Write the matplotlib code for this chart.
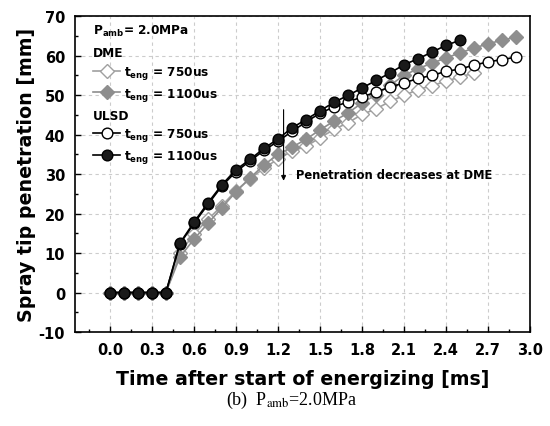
import numpy as np
import matplotlib
matplotlib.use("Agg")
import matplotlib.pyplot as plt
from matplotlib.ticker import MultipleLocator
from matplotlib.lines import Line2D

plt.rcParams['font.family'] = 'DejaVu Sans'
plt.rcParams['axes.unicode_minus'] = False
plt.rcParams['mathtext.fontset'] = 'custom'
plt.rcParams['mathtext.rm'] = 'DejaVu Sans:bold'
plt.rcParams['mathtext.bf'] = 'DejaVu Sans:bold'

# time [ms]
t_dme750 = np.round(np.arange(0, 2.65, 0.1), 1)
t_dme1100 = np.round(np.arange(0, 2.95, 0.1), 1)
t_ulsd750 = np.round(np.arange(0, 2.95, 0.1), 1)
t_ulsd1100 = np.round(np.arange(0, 2.55, 0.1), 1)

# spray tip penetration [mm]
dme750 = [0, 0, 0, 0, 0, 10.0, 14.8, 18.5, 22.0, 25.8, 28.8, 31.5, 33.8, 35.8,
          37.0, 39.2, 41.3, 43.0, 45.1, 46.5, 48.4, 49.9, 51.4, 52.4, 53.5, 54.6, 55.6]
dme1100 = [0, 0, 0, 0, 0, 9.0, 13.5, 17.5, 21.5, 25.5, 29.0, 32.3, 35.0, 36.8,
           38.8, 41.2, 43.4, 45.5, 48.0, 50.1, 52.5, 55.0, 56.7, 58.1, 59.4, 60.7,
           61.9, 63.0, 63.9, 64.7]
ulsd750 = [0, 0, 0, 0, 0, 12.3, 17.5, 22.3, 27.0, 30.6, 33.3, 36.0, 38.3, 40.8,
           43.2, 45.4, 47.0, 48.3, 49.5, 50.8, 52.0, 53.1, 54.2, 55.0, 56.0, 56.6,
           57.6, 58.4, 59.0, 59.6]
ulsd1100 = [0, 0, 0, 0, 0, 12.5, 17.8, 22.7, 27.3, 31.1, 33.7, 36.5, 38.9, 41.7,
            43.8, 46.0, 48.2, 49.9, 51.8, 53.7, 55.6, 57.7, 59.2, 60.9, 62.6, 63.9]

xticks = np.round(np.arange(0, 3.01, 0.3), 1)

fig = plt.figure(figsize=(5.5, 4.27), dpi=100)
ax = fig.add_axes([0.136, 0.220, 0.828, 0.740])

gray = '#8e8e8e'
ms = 7.2
l1, = ax.plot(t_dme750, dme750, '-D', color='#a0a0a0', mfc='white', mec='#a0a0a0',
              ms=ms, lw=1.2, mew=1.0)
l2, = ax.plot(t_dme1100, dme1100, '-D', color=gray, mfc=gray, mec=gray,
              ms=ms, lw=1.2)
l3, = ax.plot(t_ulsd750, ulsd750, '-o', color='black', mfc='white', mec='black',
              ms=ms + 0.5, lw=1.2, mew=1.0)
l4, = ax.plot(t_ulsd1100, ulsd1100, '-o', color='black', mfc='#1a1a1a', mec='black',
              ms=ms + 0.5, lw=1.2)

ax.set_xlim(-0.25, 3.0)
ax.set_ylim(-10, 70)
ax.xaxis.set_minor_locator(MultipleLocator(0.15))
ax.yaxis.set_major_locator(MultipleLocator(10))
ax.yaxis.set_minor_locator(MultipleLocator(5))
ax.set_xticks(xticks)
ax.set_xticklabels(['%.1f' % v for v in xticks])
ax.tick_params(which='both', direction='in', top=False, right=False)
ax.tick_params(which='major', length=4, width=1)
ax.tick_params(which='minor', length=2.5, width=1)
ax.tick_params(labelsize=10.5, pad=7)
for lab in ax.get_xticklabels() + ax.get_yticklabels():
    lab.set_fontweight('bold')
for s in ax.spines.values():
    s.set_linewidth(1.2)
ax.grid(True, which='major', ls=(0, (3, 3)), color='#cccccc', lw=0.8)
ax.set_axisbelow(True)

ax.set_xlabel('Time after start of energizing [ms]', fontsize=13.7,
              fontweight='bold', labelpad=9)
ax.set_ylabel('Spray tip penetration [mm]', fontsize=13.7,
              fontweight='bold', labelpad=2)

# arrow and note
ax.annotate('', xy=(1.24, 27.6), xytext=(1.24, 47),
            arrowprops=dict(arrowstyle='-|>', color='black', lw=0.8,
                            mutation_scale=7))
ax.text(1.33, 29.9, 'Penetration decreases at DME', fontsize=8.3,
        fontweight='bold', va='center')

# legends
lab750 = r'$\mathbf{t_{eng}}$ = 750us'
lab1100 = r'$\mathbf{t_{eng}}$ = 1100us'
leg1 = ax.legend([l1, l2], [lab750, lab1100],
                 title='P$_{\\mathbf{amb}}$= 2.0MPa\nDME',
                 loc='upper left', bbox_to_anchor=(0.03, 0.994), frameon=False,
                 prop={'weight': 'bold', 'size': 8.7}, handlelength=2.2,
                 handletextpad=0.3, labelspacing=0.38, borderaxespad=0)
leg1.get_title().set_fontweight('bold')
leg1.get_title().set_fontsize(8.7)
leg1.get_title().set_linespacing(1.85)
leg1._legend_box.align = 'left'
ax.add_artist(leg1)
leg2 = ax.legend([l3, l4], [lab750, lab1100],
                 title='ULSD', loc='upper left', bbox_to_anchor=(0.03, 0.722),
                 frameon=False, prop={'weight': 'bold', 'size': 8.7},
                 handlelength=2.2, handletextpad=0.3, labelspacing=0.38,
                 borderaxespad=0)
leg2.get_title().set_fontweight('bold')
leg2.get_title().set_fontsize(8.7)
leg2._legend_box.align = 'left'

fig.text(0.53, 0.063, r'(b)  P$_{\mathrm{amb}}$=2.0MPa', ha='center', va='center',
         fontsize=13, family='Liberation Serif', math_fontfamily='stix')

fig.savefig('out.png', dpi=100)
